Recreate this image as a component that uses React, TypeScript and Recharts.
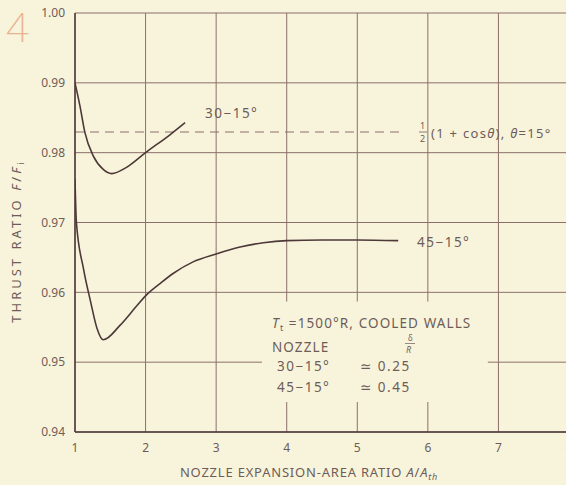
import { CartesianGrid, Line, LineChart, ReferenceArea, ReferenceLine, XAxis, YAxis } from "recharts";

const PAPER = "#f8f4dc";
const INK = "#4d3838";
const GRID = "#8c6f6a";
const TEXT = "#6e5c58";
const FONT = "'Noto Sans', 'DejaVu Sans', sans-serif";

const X_TICKS = [1, 2, 3, 4, 5, 6, 7, 8];
const Y_TICKS = [0.94, 0.95, 0.96, 0.97, 0.98, 0.99, 1.0];

// 30-15 deg nozzle
const X_30 = [1.0, 1.07, 1.14, 1.26, 1.4, 1.52, 1.73, 2.0, 2.35, 2.56];
const Y_30 = [0.99, 0.9867, 0.9829, 0.9795, 0.9776, 0.977, 0.9779, 0.98, 0.9826, 0.9843];

// 45-15 deg nozzle
const X_45 = [1.0, 1.02, 1.12, 1.22, 1.31, 1.4, 1.64, 1.87, 2.02, 2.21, 2.39, 2.68, 3.0, 3.34, 3.67, 4.0, 4.5, 5.0, 5.58];
const Y_45 = [
  0.9762, 0.97, 0.9634, 0.9587, 0.9549, 0.9532, 0.9553, 0.958, 0.9597, 0.9613, 0.9627, 0.9644, 0.9655, 0.9665, 0.9671,
  0.9674, 0.9675, 0.9675, 0.9674,
];

// 1/2 (1 + cos 15deg)
const THETA_DEG = 15;
const COS_LIMIT = 0.5 * (1 + Math.cos((THETA_DEG * Math.PI) / 180));
const COS_LINE_END = 5.65;

const data30 = X_30.map((x, i) => ({ x, y: Y_30[i] }));
const data45 = X_45.map((x, i) => ({ x, y: Y_45[i] }));

const fmtY = (v: number) => v.toFixed(2);

export default function App() {
  return (
    <div style={{ position: "absolute", left: 0, top: 0, width: 566, height: 485, overflow: "hidden", background: PAPER }}>
      <LineChart width={600} height={485} margin={{ top: 13, right: 31, left: 0, bottom: 0 }}>
        <CartesianGrid stroke={GRID} strokeWidth={1} verticalValues={X_TICKS} horizontalValues={Y_TICKS} />
        <XAxis
          dataKey="x"
          type="number"
          domain={[1, 8]}
          ticks={X_TICKS}
          height={53}
          axisLine={{ stroke: INK, strokeWidth: 1.5 }}
          tickLine={false}
          tickMargin={5}
          tick={{ fill: TEXT, fontSize: 12, fontFamily: FONT }}
          allowDataOverflow
        />
        <YAxis
          type="number"
          domain={[0.94, 1.0]}
          ticks={Y_TICKS}
          width={75}
          axisLine={{ stroke: INK, strokeWidth: 1.5 }}
          tickLine={false}
          tickMargin={4}
          tickFormatter={fmtY}
          tick={{ fill: TEXT, fontSize: 12, fontFamily: FONT }}
          allowDataOverflow
        />
        <ReferenceArea x1={3.65} x2={6.85} y1={0.9443} y2={0.9587} fill={PAPER} fillOpacity={1} stroke="none" />
        <ReferenceLine
          segment={[
            { x: 1, y: COS_LIMIT },
            { x: COS_LINE_END, y: COS_LIMIT },
          ]}
          stroke={GRID}
          strokeWidth={1.2}
          strokeDasharray="9 6"
        />
        <Line data={data30} dataKey="y" type="monotone" stroke={INK} strokeWidth={1.6} dot={false} isAnimationActive={false} />
        <Line data={data45} dataKey="y" type="monotone" stroke={INK} strokeWidth={1.6} dot={false} isAnimationActive={false} />
      </LineChart>

      <svg width={566} height={485} style={{ position: "absolute", left: 0, top: 0, pointerEvents: "none" }}>
        <g fontFamily={FONT} fill={TEXT}>
          <text x={6} y={42} fontSize={40} fill="#eab28e" fontWeight={200}>
            4
          </text>
          <text x={205} y={118} fontSize={13.5} letterSpacing={1.5}>
            30−15°
          </text>
          <text x={417} y={247} fontSize={13.5} letterSpacing={1.5}>
            45−15°
          </text>
          <text x={420} y={129} fontSize={9}>1</text>
          <line x1={419} y1={132} x2={427} y2={132} stroke={TEXT} strokeWidth={0.8} />
          <text x={420} y={142} fontSize={9}>2</text>
          <text x={431} y={138} fontSize={13} letterSpacing={1.3}>
            (1 + cos<tspan fontStyle="italic">θ</tspan>), <tspan fontStyle="italic">θ</tspan>=15°
          </text>

          <text x={272} y={328} fontSize={13.5} letterSpacing={1.1}>
            <tspan fontStyle="italic">T</tspan>
            <tspan fontSize={9} dy={3}>t</tspan>
            <tspan dy={-3}> =1500°R, COOLED WALLS</tspan>
          </text>
          <text x={272} y={352} fontSize={13.5} letterSpacing={1.1}>
            NOZZLE
          </text>
          <text x={408} y={341} fontSize={8}>δ</text>
          <line x1={405} y1={343.5} x2={415} y2={343.5} stroke={TEXT} strokeWidth={0.7} />
          <text x={406} y={353} fontSize={9} fontStyle="italic">R</text>
          <text x={277} y={371} fontSize={13.5} letterSpacing={1.5}>
            30−15°
          </text>
          <text x={360} y={371} fontSize={13.5} letterSpacing={1.5}>
            ≃ 0.25
          </text>
          <text x={277} y={392} fontSize={13.5} letterSpacing={1.5}>
            45−15°
          </text>
          <text x={360} y={392} fontSize={13.5} letterSpacing={1.5}>
            ≃ 0.45
          </text>

          <text x={309} y={477} fontSize={13} letterSpacing={0.8} textAnchor="middle">
            NOZZLE EXPANSION-AREA RATIO <tspan fontStyle="italic">A</tspan>/<tspan fontStyle="italic">A</tspan>
            <tspan fontSize={9} dy={3} fontStyle="italic">th</tspan>
          </text>
          <text x={21} y={241} fontSize={13} letterSpacing={3} textAnchor="middle" transform="rotate(-90 21 241)">
            THRUST RATIO <tspan fontStyle="italic">F</tspan>/<tspan fontStyle="italic">F</tspan>
            <tspan fontSize={9} dy={3}>i</tspan>
          </text>
        </g>
      </svg>
    </div>
  );
}
